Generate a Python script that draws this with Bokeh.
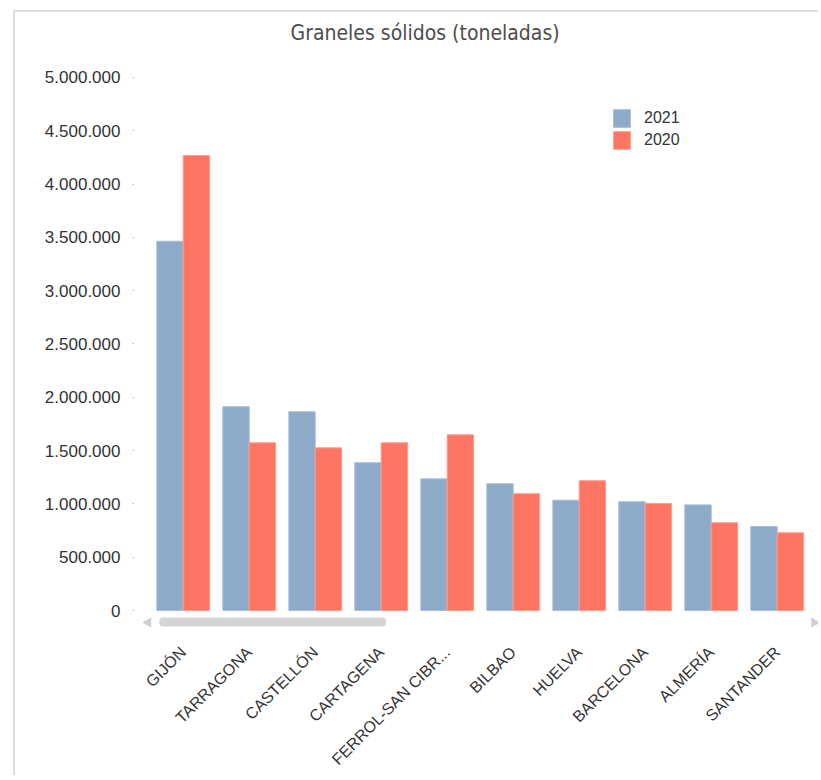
import math
from bokeh.plotting import figure
from bokeh.models import (ColumnDataSource, Range1d, FixedTicker, BoxAnnotation,
                          PolyAnnotation)
from bokeh.transform import dodge
from bokeh.embed import file_html
from bokeh.resources import INLINE

# ---- data ----
categories = ["GIJÓN", "TARRAGONA", "CASTELLÓN", "CARTAGENA", "FERROL-SAN CIBR...",
              "BILBAO", "HUELVA", "BARCELONA", "ALMERÍA", "SANTANDER"]
v2021 = [3464000, 1911000, 1864000, 1386000, 1235000, 1189000, 1035000, 1020000, 991000, 788000]
v2020 = [4268000, 1573000, 1526000, 1573000, 1648000, 1095000, 1217000, 1004000, 823000, 729000]
series = ["2021", "2020"]
y_ticks = [0, 500000, 1000000, 1500000, 2000000, 2500000, 3000000, 3500000, 4000000, 4500000, 5000000]
title_text = "Graneles sólidos (toneladas)"

BLUE = "#8eaac9"
RED = "#ff7563"
LABEL_FONT = "Liberation Sans"

# ---- layout constants (pixels) ----
PX_PER_CAT = 66.0              # category spacing
UNITS_PER_PX = 5000000 / 534   # value units per pixel
X_START, X_END = -0.738, 9.656
Y_START, Y_END = -19 * UNITS_PER_PX, 5000000 + 23 * UNITS_PER_PX

idx = list(range(len(categories)))
src = ColumnDataSource(dict(x=idx, cat=categories, v2021=v2021, v2020=v2020))

p = figure(width=805, height=765,
           x_range=Range1d(X_START, X_END), y_range=Range1d(Y_START, Y_END),
           output_backend="svg", toolbar_location=None,
           min_border_left=119, min_border_right=0, min_border_top=42, min_border_bottom=147,
           title=title_text)
p.margin = (10, 0, 0, 13)
p.styles = {"border-top": "2px solid #dddddd", "border-left": "2px solid #dddddd"}
p.outline_line_color = None
p.background_fill_color = "white"
p.border_fill_color = "white"
p.xgrid.visible = False
p.ygrid.visible = False

# title
p.title.text_font = "DejaVu Sans Condensed, Liberation Sans Narrow, sans-serif"
p.title.text_font_size = "21px"
p.title.text_font_style = "normal"
p.title.text_color = "#4d4d4d"
p.title.align = "left"
p.title.offset = 156
p.title.vertical_align = "top"
p.title.standoff = 16

# bars
p.vbar(x=dodge("x", -0.2, range=p.x_range), top="v2021", width=0.4, source=src,
       fill_color=BLUE, line_color="#a9bcd4", line_width=1, legend_label=series[0])
p.vbar(x=dodge("x", 0.2, range=p.x_range), top="v2020", width=0.4, source=src,
       fill_color=RED, line_color="#ff9a88", line_width=1, legend_label=series[1])

lg = p.legend[0]
lg.location = (477, 478)
lg.glyph_width = 21
lg.glyph_height = 22
lg.label_height = 22
lg.spacing = 0
lg.padding = 0
lg.margin = 0
lg.label_standoff = 12
lg.label_text_font = LABEL_FONT
lg.label_text_font_size = "16px"
lg.label_text_color = "#333333"
lg.border_line_alpha = 0
lg.background_fill_alpha = 0

# y axis
yax = p.yaxis[0]
yax.ticker = FixedTicker(ticks=y_ticks)
yax.major_label_overrides = {t: f"{t:,}".replace(",", ".") for t in y_ticks}
yax.axis_line_color = None
yax.major_tick_in = 0
yax.major_tick_out = 2
yax.major_tick_line_color = "#cccccc"
yax.minor_tick_line_color = None
yax.major_label_standoff = 12
yax.major_label_text_font = LABEL_FONT
yax.major_label_text_font_size = "17px"
yax.major_label_text_color = "#333333"

# x axis
xax = p.xaxis[0]
xax.ticker = FixedTicker(ticks=idx)
xax.major_label_overrides = {i: c for i, c in zip(idx, categories)}
xax.major_label_orientation = math.pi / 4
xax.axis_line_color = None
xax.major_tick_line_color = None
xax.minor_tick_line_color = None
xax.major_label_standoff = 14
xax.major_label_text_font = LABEL_FONT
xax.major_label_text_font_size = "16px"
xax.major_label_text_color = "#333333"

# decorative scrollbar under the baseline
def bx(px_from_first_center):
    return px_from_first_center / PX_PER_CAT

def by(px_below_zero):
    return -px_below_zero * UNITS_PER_PX

p.add_layout(BoxAnnotation(left=bx(-24), right=bx(203), top=by(7), bottom=by(16),
                           fill_color="#d4d4d4", fill_alpha=1, line_color=None,
                           border_radius=4))
p.add_layout(PolyAnnotation(xs=[bx(-41), bx(-32), bx(-32)], ys=[by(12), by(7), by(17)],
                            fill_color="#d0d0d0", fill_alpha=1, line_color=None))
p.add_layout(PolyAnnotation(xs=[bx(637), bx(628), bx(628)], ys=[by(12), by(7), by(17)],
                            fill_color="#d0d0d0", fill_alpha=1, line_color=None))

open("out.html", "w").write(file_html(p, INLINE))
